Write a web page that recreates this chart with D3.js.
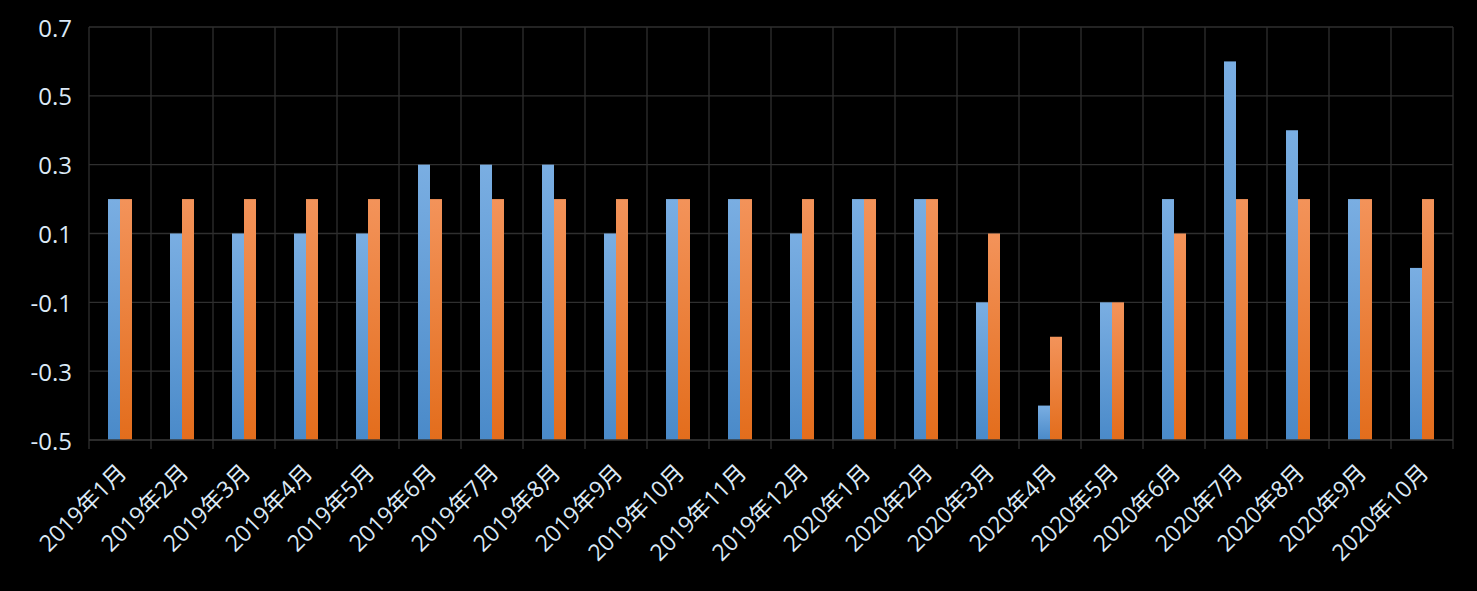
<!DOCTYPE html>
<html><head><meta charset="utf-8">
<script src="https://cdn.jsdelivr.net/npm/d3@7"></script>
<style>html,body{margin:0;padding:0;background:#000;}svg{display:block;}</style>
</head><body>
<svg id="chart" width="1477" height="591"></svg>
<script>
const categories = ["2019年1月","2019年2月","2019年3月","2019年4月","2019年5月","2019年6月","2019年7月","2019年8月","2019年9月","2019年10月","2019年11月","2019年12月","2020年1月","2020年2月","2020年3月","2020年4月","2020年5月","2020年6月","2020年7月","2020年8月","2020年9月","2020年10月"];
const seriesBlue = [0.2,0.1,0.1,0.1,0.1,0.3,0.3,0.3,0.1,0.2,0.2,0.1,0.2,0.2,-0.1,-0.4,-0.1,0.2,0.6,0.4,0.2,0.0];
const seriesOrange = [0.2,0.2,0.2,0.2,0.2,0.2,0.2,0.2,0.2,0.2,0.2,0.2,0.2,0.2,0.1,-0.2,-0.1,0.1,0.2,0.2,0.2,0.2];
const yTicks = [-0.5,-0.3,-0.1,0.1,0.3,0.5,0.7];
const yTickLabels = ["-0.5","-0.3","-0.1","0.1","0.3","0.5","0.7"];

const svg = d3.select("#chart");
const m = {left: 89, right: 1453, top: 27, bottom: 440};
const x = d3.scaleBand().domain(categories).range([m.left, m.right]).paddingInner(0).paddingOuter(0);
const y = d3.scaleLinear().domain([-0.5, 0.7]).range([m.bottom, m.top]);
const barW = 12;

const defs = svg.append("defs");
function grad(id, top, bottom){
  const g = defs.append("linearGradient").attr("id", id).attr("x1",0).attr("y1",0).attr("x2",0).attr("y2",1);
  g.append("stop").attr("offset","0%").attr("stop-color", top);
  g.append("stop").attr("offset","100%").attr("stop-color", bottom);
}
grad("gBlue", "#7aaee2", "#4a8ac9");
grad("gOrange", "#f3935a", "#e36d1c");

const gridColor = "#2f2f2f";
svg.append("g").selectAll("line").data(yTicks.slice(1)).join("line")
  .attr("x1", m.left).attr("x2", m.right)
  .attr("y1", d => y(d)).attr("y2", d => y(d))
  .attr("stroke", gridColor).attr("stroke-width", 1.3);
const bounds = categories.map(c => x(c)).concat([m.right]);
svg.append("g").selectAll("line").data(bounds).join("line")
  .attr("x1", d => d).attr("x2", d => d)
  .attr("y1", m.top).attr("y2", m.bottom + 9)
  .attr("stroke", gridColor).attr("stroke-width", 1.3);

const bars = svg.append("g");
bars.selectAll("rect.b").data(categories).join("rect").attr("class","b")
  .attr("x", (c) => x(c) + x.bandwidth()/2 - barW)
  .attr("width", barW)
  .attr("y", (c,i) => y(seriesBlue[i]))
  .attr("height", (c,i) => y(-0.5) - y(seriesBlue[i]))
  .attr("fill", "url(#gBlue)");
bars.selectAll("rect.o").data(categories).join("rect").attr("class","o")
  .attr("x", (c) => x(c) + x.bandwidth()/2)
  .attr("width", barW)
  .attr("y", (c,i) => y(seriesOrange[i]))
  .attr("height", (c,i) => y(-0.5) - y(seriesOrange[i]))
  .attr("fill", "url(#gOrange)");

svg.append("line").attr("x1", m.left).attr("x2", m.right).attr("y1", m.bottom).attr("y2", m.bottom)
  .attr("stroke", "#3a3a3a").attr("stroke-width", 1.5);

const font = "'Open Sans','Noto Sans CJK SC',sans-serif";
const textColor = "#dce9f6";
svg.append("g").selectAll("text").data(yTicks).join("text")
  .attr("x", 72).attr("y", d => y(d))
  .attr("text-anchor", "end").attr("dominant-baseline", "central")
  .attr("font-family", font).attr("font-size", 24).attr("fill", textColor)
  .text((d,i) => yTickLabels[i]);

svg.append("g").selectAll("text").data(categories).join("text")
  .attr("transform", c => `translate(${x(c) + x.bandwidth()/2 + 8},${m.bottom + 34}) rotate(-45)`)
  .attr("text-anchor", "end")
  .attr("font-family", font).attr("font-size", 23).attr("fill", textColor)
  .text(c => c);
</script>
</body></html>
